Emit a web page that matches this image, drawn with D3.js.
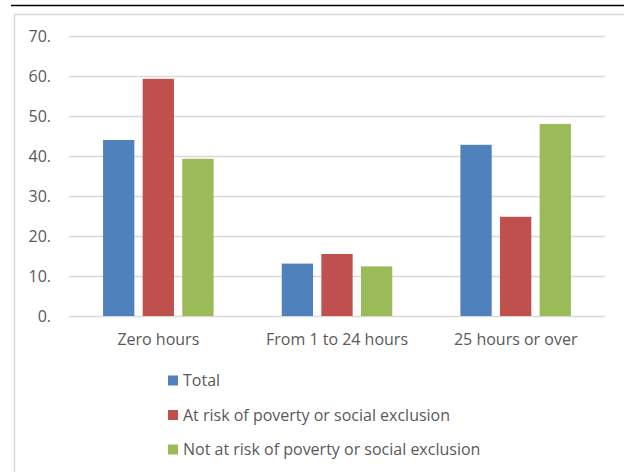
<!DOCTYPE html>
<html><head><meta charset="utf-8">
<script src="https://cdn.jsdelivr.net/npm/d3@7"></script>
<style>html,body{margin:0;padding:0;background:#fff;}svg{display:block;}</style>
</head><body>
<script>
const categories = ["Zero hours", "From 1 to 24 hours", "25 hours or over"];
const seriesNames = ["Total", "At risk of poverty or social exclusion", "Not at risk of poverty or social exclusion"];
const totalValues = [44.0, 13.1, 42.8];
const atRiskValues = [59.3, 15.5, 24.8];
const notAtRiskValues = [39.3, 12.4, 48.0];
const yTicks = [0, 10, 20, 30, 40, 50, 60, 70];
const yTickLabels = ["0.", "10.", "20.", "30.", "40.", "50.", "60.", "70."];
const colors = ["#4f81bd", "#c0504d", "#9bbb59"];

const seriesValues = [totalValues, atRiskValues, notAtRiskValues];
const W = 624, H = 472;
const font = "'Open Sans', sans-serif";
const svg = d3.select("body").append("svg").attr("width", W).attr("height", H);

// top rule and chart frame
svg.append("line").attr("x1", 11).attr("x2", W).attr("y1", 5.5).attr("y2", 5.5)
  .attr("stroke", "#000").attr("stroke-width", 1.3);
svg.append("rect").attr("x", 14.5).attr("y", 14.5).attr("width", W).attr("height", H)
  .attr("fill", "none").attr("stroke", "#d9d9d9").attr("stroke-width", 1.5);

const plot = {left: 69, right: 605, top: 36, bottom: 316};
const y = d3.scaleLinear().domain([0, 70]).range([plot.bottom, plot.top]);
const x0 = d3.scaleBand().domain(categories).range([plot.left, plot.right]).paddingInner(0).paddingOuter(0);
const x1 = d3.scaleBand().domain(d3.range(seriesNames.length)).range([0, x0.bandwidth()])
  .paddingInner(0.21).paddingOuter(0.86);

// gridlines
const yAxis = d3.axisLeft(y).tickValues(yTicks).tickSize(-(plot.right - plot.left))
  .tickFormat((d, i) => yTickLabels[i]).tickPadding(18);
const gy = svg.append("g").attr("transform", `translate(${plot.left},0)`).call(yAxis);
gy.select(".domain").remove();
gy.selectAll(".tick line").attr("stroke", "#d9d9d9").attr("stroke-width", 1.3);
gy.selectAll(".tick text").attr("fill", "#595959").style("font-family", font).style("font-size", "16px");

// bars
const groups = svg.append("g").selectAll("g").data(categories).join("g")
  .attr("transform", d => `translate(${x0(d)},0)`);
groups.selectAll("rect").data((c, ci) => seriesValues.map((vals, si) => ({si, v: vals[ci]})))
  .join("rect")
  .attr("x", d => x1(d.si))
  .attr("width", x1.bandwidth())
  .attr("y", d => y(d.v))
  .attr("height", d => y(0) - y(d.v))
  .attr("fill", d => colors[d.si]);

// category labels
const xAxis = d3.axisBottom(x0).tickSize(0).tickPadding(17.5);
const gx = svg.append("g").attr("transform", `translate(0,${plot.bottom})`).call(xAxis);
gx.select(".domain").remove();
gx.selectAll(".tick text").attr("fill", "#595959").style("font-family", font).style("font-size", "16px");

// legend
const legend = svg.append("g").selectAll("g").data(seriesNames).join("g")
  .attr("transform", (d, i) => `translate(168,${380.5 + i * 34.5})`);
legend.append("rect").attr("x", 0).attr("y", -5).attr("width", 10).attr("height", 10)
  .attr("fill", (d, i) => colors[i]);
legend.append("text").attr("x", 15).attr("y", 0).attr("dy", "0.35em")
  .attr("fill", "#595959").style("font-family", font).style("font-size", "16px").text(d => d);
</script>
</body></html>
